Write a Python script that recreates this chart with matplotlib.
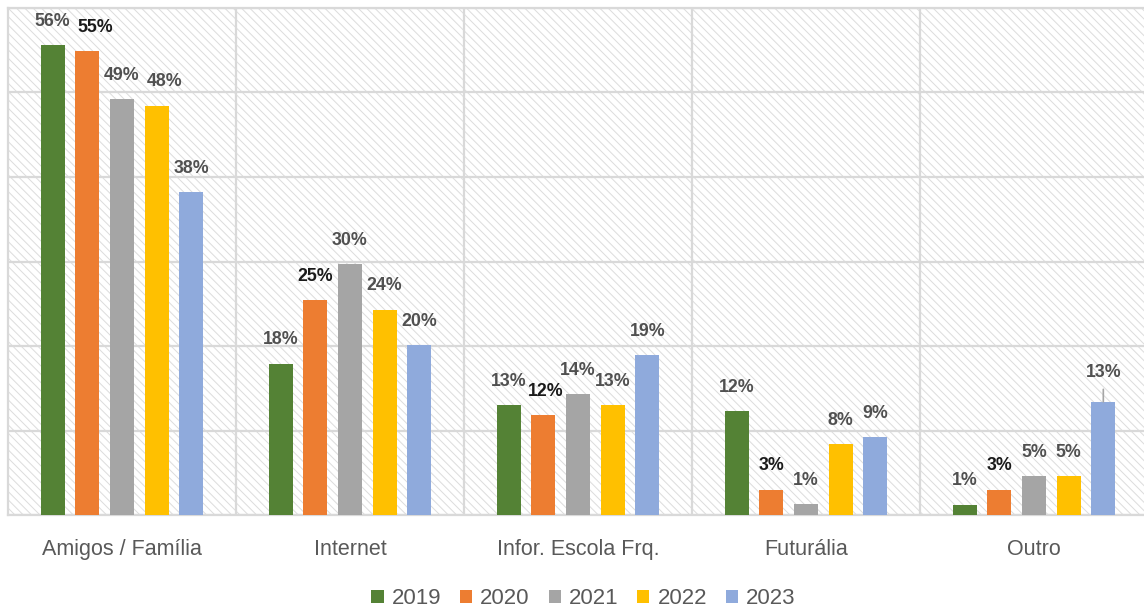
import matplotlib.pyplot as plt
from matplotlib.patches import Rectangle, Patch
import numpy as np

# --- DATA ---
categories = ['Amigos / Família', 'Internet', 'Infor. Escola Frq.', 'Futurália', 'Outro']
years = ['2019', '2020', '2021', '2022', '2023']
v2019 = [55.6, 17.9, 13.0, 12.3, 1.2]
v2020 = [54.9, 25.4, 11.8, 3.0, 3.0]
v2021 = [49.2, 29.7, 14.3, 1.3, 4.6]
v2022 = [48.4, 24.3, 13.0, 8.4, 4.6]
v2023 = [38.2, 20.1, 18.9, 9.2, 13.4]
series = [v2019, v2020, v2021, v2022, v2023]

colors = ['#548235', '#ED7D31', '#A5A5A5', '#FFC000', '#8FAADC']
label_colors = ['#505050', '#1a1a1a', '#505050', '#505050', '#505050']
GRID = '#d9d9d9'

plt.rcParams['font.family'] = ['Liberation Sans', 'DejaVu Sans']
plt.rcParams['hatch.linewidth'] = 0.7

fig = plt.figure(figsize=(11.44, 6.11), dpi=100)
ax = fig.add_axes([0.007, 0.157, 0.9965, 0.830])

# hatched background
bg = Rectangle((0, 0), 1, 1, transform=ax.transAxes, facecolor='white',
               edgecolor='#dcdcdc', hatch='\\\\\\\\', linewidth=0, zorder=0)
ax.add_patch(bg)

# labels nudged sideways to avoid overlap (series index, category index) -> points
nudge = {(1, 0): 6, (3, 0): 6, (1, 2): 2}

x = np.arange(len(categories))
pitch = 0.152
width = 0.105
for i, (vals, c) in enumerate(zip(series, colors)):
    xs = x + (i - 2) * pitch
    ax.bar(xs, vals, width=width, color=c, zorder=3)
    for j, (xx, v) in enumerate(zip(xs, vals)):
        off = 17.3
        if i == 4 and j == 4:
            # label moved up with leader line
            off = 21
            ax.annotate('', xy=(xx, v), xytext=(0, 9), textcoords='offset points',
                        arrowprops=dict(arrowstyle='-', color='#a6a6a6', lw=1.2,
                                        shrinkA=0, shrinkB=0), zorder=4)
        ax.annotate(f'{v:.0f}%', xy=(xx, v), xytext=(nudge.get((i, j), 0), off),
                    textcoords='offset points', ha='center', va='center',
                    fontsize=12.8, fontweight='bold', color=label_colors[i], zorder=5)

ax.set_xlim(-0.5, len(categories) - 0.5)
ax.set_ylim(0, 60)
ax.set_yticks(np.arange(0, 61, 10))
ax.set_yticklabels([])
ax.set_xticks(x)
ax.set_xticklabels(categories, fontsize=15.5, color='#595959')
ax.set_xticks(np.arange(0.5, len(categories) - 0.5, 1), minor=True)
ax.tick_params(axis='both', which='both', length=0)
ax.tick_params(axis='x', pad=17)
ax.grid(True, axis='y', which='major', color=GRID, lw=1.6, zorder=1)
ax.grid(True, axis='x', which='minor', color=GRID, lw=1.6, zorder=1)
ax.set_axisbelow(True)
for s in ax.spines.values():
    s.set_color(GRID)
    s.set_linewidth(1.6)

handles = [Patch(facecolor=c, edgecolor='none', label=y) for c, y in zip(colors, years)]
leg = fig.legend(handles=handles, loc='center', bbox_to_anchor=(0.51, 0.02), ncol=5,
                 frameon=False, fontsize=16, handlelength=0.55, handleheight=0.55,
                 handletextpad=0.36, columnspacing=0.85)
for t in leg.get_texts():
    t.set_color('#595959')

fig.savefig('out.png', dpi=100)
